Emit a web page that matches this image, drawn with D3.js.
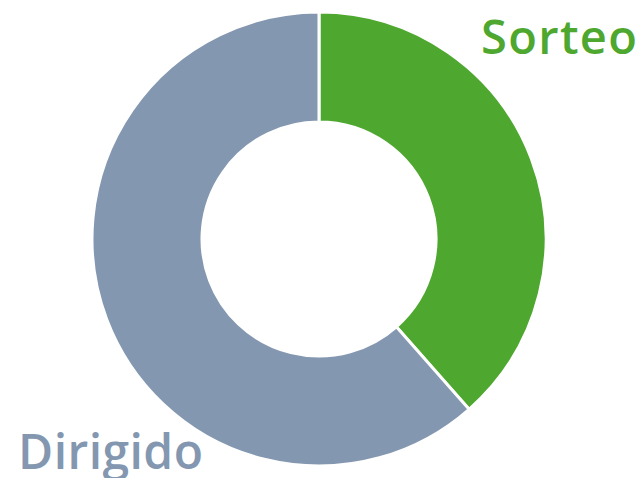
<!DOCTYPE html>
<html>
<head>
<meta charset="utf-8">
<script src="https://cdn.jsdelivr.net/npm/d3@7"></script>
<style>
  body { margin: 0; background: #fff; }
  .lbl { font-family: "Open Sans", sans-serif; font-weight: 600; }
</style>
</head>
<body>
<div id="chart"></div>
<script>
var width = 643;
var height = 478;

var categories = ["Sorteo", "Dirigido"];
var values = [38.5, 61.5];
var colors = ["#4ea72e", "#8497b0"];

var cx = 319, cy = 239;
var outerR = 227, innerR = 117;

var svg = d3.select("#chart")
  .append("svg")
  .attr("width", width)
  .attr("height", height);

var g = svg.append("g")
  .attr("transform", "translate(" + cx + "," + cy + ")");

var pie = d3.pie().sort(null)(values);
var arc = d3.arc().innerRadius(innerR).outerRadius(outerR);

g.selectAll("path")
  .data(pie)
  .enter()
  .append("path")
  .attr("d", arc)
  .attr("fill", function(d, i) { return colors[i]; })
  .attr("stroke", "#fff")
  .attr("stroke-width", 3);

// labels
svg.append("text")
  .attr("class", "lbl")
  .attr("x", 481)
  .attr("y", 54)
  .attr("font-size", 47)
  .attr("textLength", 156)
  .attr("lengthAdjust", "spacing")
  .attr("fill", colors[0])
  .text(categories[0]);

svg.append("text")
  .attr("class", "lbl")
  .attr("x", 18)
  .attr("y", 469)
  .attr("font-size", 48)
  .attr("textLength", 185)
  .attr("lengthAdjust", "spacing")
  .attr("fill", colors[1])
  .text(categories[1]);
</script>
</body>
</html>
